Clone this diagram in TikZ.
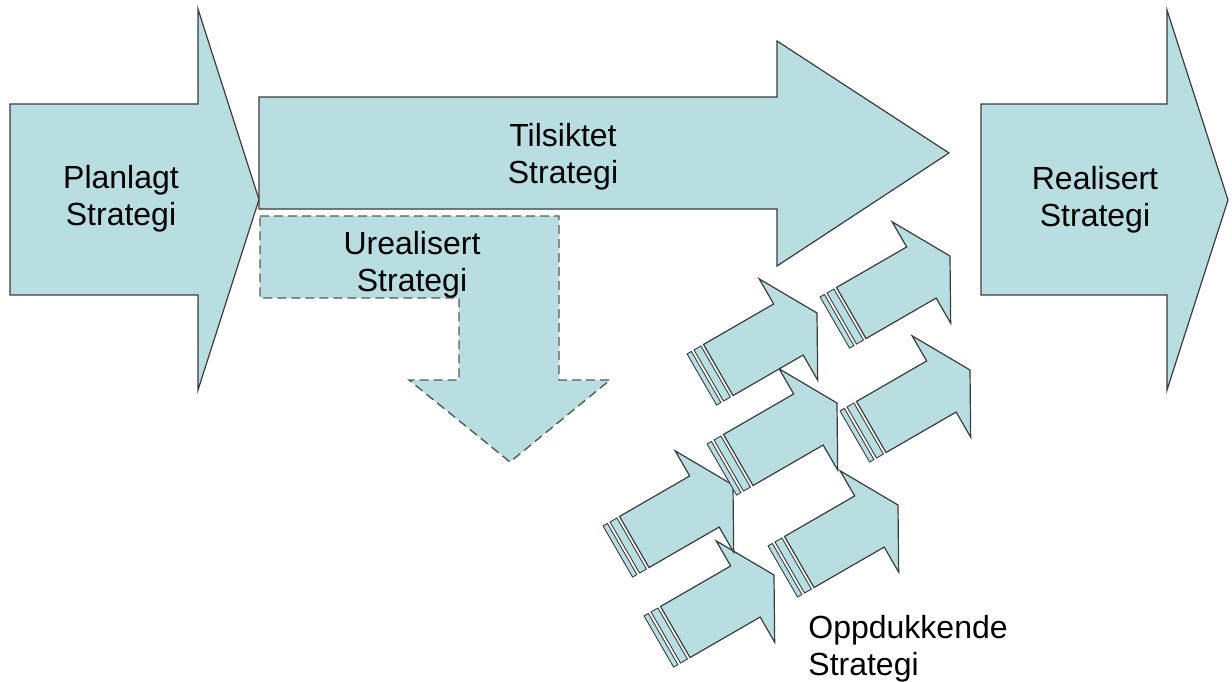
\documentclass[tikz,border=0pt]{standalone}
\usepackage{fontspec}
\setmainfont{Liberation Sans}
\usepackage{tikz}

\definecolor{arrowblue}{RGB}{185,222,226}
\definecolor{edgegray}{RGB}{60,60,60}

\tikzset{
  blockarrow/.style={fill=arrowblue, draw=edgegray, line width=0.6pt},
  stripe/.style={fill=arrowblue, draw=edgegray, line width=0.45pt},
  dashedarrow/.style={fill=arrowblue, draw=edgegray!85, line width=0.7pt, dash pattern=on 4.5pt off 2.5pt},
  txt/.style={font=\fontsize{16}{18.5}\selectfont, align=center, inner sep=0pt}
}

\begin{document}
\begin{tikzpicture}[x=0.5pt, y=-0.5pt]
\useasboundingbox (0,0) rectangle (1232,681);

% big arrows
\filldraw[blockarrow] (10,104) -- (198,104) -- (198,9) -- (259,199.5) -- (198,390) -- (198,295) -- (10,295) -- cycle;
\filldraw[blockarrow] (259,97) -- (777,97) -- (777,41) -- (949,153) -- (777,266) -- (777,209) -- (259,209) -- cycle;
\filldraw[blockarrow] (981,104) -- (1167,104) -- (1167,10) -- (1228,200) -- (1167,390) -- (1167,295) -- (981,295) -- cycle;

% unrealised part
\filldraw[dashedarrow] (260,216) -- (559,216) -- (559,380) -- (610,380) -- (510,462) -- (409,380) -- (459,380) -- (459,298) -- (260,298) -- cycle;

% small striped arrows
\begin{scope}[shift={(774,575)}, rotate=30]
\filldraw[stripe] (-133,-29.5) rectangle (-128,29.5);
\filldraw[stripe] (-125,-29.5) rectangle (-117,29.5);
\filldraw[blockarrow] (-114,-29.5) -- (-33,-29.5) -- (-33,-58.5) -- (0,0) -- (-33,58.5) -- (-33,29.5) -- (-114,29.5) -- cycle;
\end{scope}

\begin{scope}[shift={(733,485)}, rotate=30]
\filldraw[stripe] (-133,-29.5) rectangle (-128,29.5);
\filldraw[stripe] (-125,-29.5) rectangle (-117,29.5);
\filldraw[blockarrow] (-114,-29.5) -- (-33,-29.5) -- (-33,-58.5) -- (0,0) -- (-33,58.5) -- (-33,29.5) -- (-114,29.5) -- cycle;
\end{scope}

\begin{scope}[shift={(898,505)}, rotate=30]
\filldraw[stripe] (-133,-29.5) rectangle (-128,29.5);
\filldraw[stripe] (-125,-29.5) rectangle (-117,29.5);
\filldraw[blockarrow] (-114,-29.5) -- (-33,-29.5) -- (-33,-58.5) -- (0,0) -- (-33,58.5) -- (-33,29.5) -- (-114,29.5) -- cycle;
\end{scope}

\begin{scope}[shift={(837,403)}, rotate=30]
\filldraw[stripe] (-133,-29.5) rectangle (-128,29.5);
\filldraw[stripe] (-125,-29.5) rectangle (-117,29.5);
\filldraw[blockarrow] (-114,-29.5) -- (-33,-29.5) -- (-33,-58.5) -- (0,0) -- (-33,58.5) -- (-33,29.5) -- (-114,29.5) -- cycle;
\end{scope}

\begin{scope}[shift={(970,370)}, rotate=30]
\filldraw[stripe] (-133,-29.5) rectangle (-128,29.5);
\filldraw[stripe] (-125,-29.5) rectangle (-117,29.5);
\filldraw[blockarrow] (-114,-29.5) -- (-33,-29.5) -- (-33,-58.5) -- (0,0) -- (-33,58.5) -- (-33,29.5) -- (-114,29.5) -- cycle;
\end{scope}

\begin{scope}[shift={(817,313)}, rotate=30]
\filldraw[stripe] (-133,-29.5) rectangle (-128,29.5);
\filldraw[stripe] (-125,-29.5) rectangle (-117,29.5);
\filldraw[blockarrow] (-114,-29.5) -- (-33,-29.5) -- (-33,-58.5) -- (0,0) -- (-33,58.5) -- (-33,29.5) -- (-114,29.5) -- cycle;
\end{scope}

\begin{scope}[shift={(950,256)}, rotate=30]
\filldraw[stripe] (-133,-29.5) rectangle (-128,29.5);
\filldraw[stripe] (-125,-29.5) rectangle (-117,29.5);
\filldraw[blockarrow] (-114,-29.5) -- (-33,-29.5) -- (-33,-58.5) -- (0,0) -- (-33,58.5) -- (-33,29.5) -- (-114,29.5) -- cycle;
\end{scope}

% texts
\node[txt] (planlagt) at (121,199) {Planlagt\\Strategi};
\node[txt] (tilsiktet) at (563,156.5) {Tilsiktet\\Strategi};
\node[txt] (urealisert) at (412,264.5) {Urealisert\\Strategi};
\node[txt] (realisert) at (1095,200) {Realisert\\Strategi};
\node[txt, align=left, anchor=west] (oppdukkende) at (808,649) {Oppdukkende\\Strategi};
\end{tikzpicture}
\end{document}
